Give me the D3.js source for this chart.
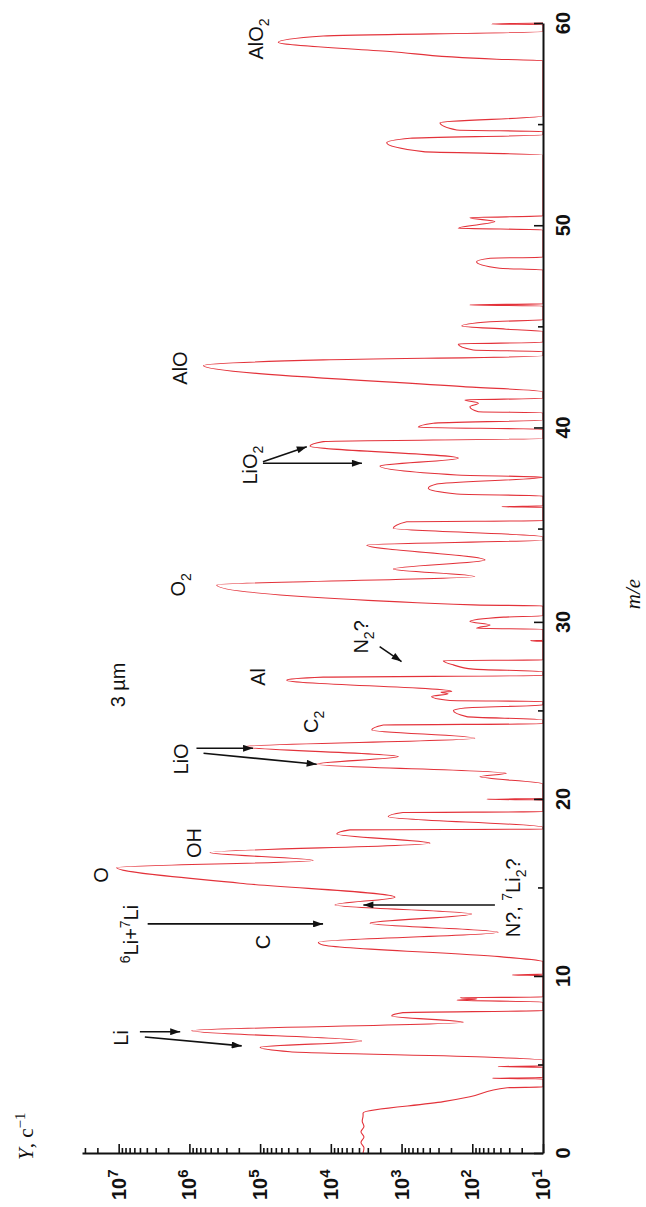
<!DOCTYPE html>
<html>
<head>
<meta charset="utf-8">
<script src="https://cdnjs.cloudflare.com/ajax/libs/d3/7.8.5/d3.min.js"></script>
<style>
body { margin: 0; background: #fff; }
svg text { font-family: "Liberation Sans", Arial, sans-serif; fill: #111; }
.axis path, .axis line { stroke: #111; }
</style>
</head>
<body>
<svg id="chart" width="646" height="1207"></svg>
<script>
// m/e of each trace vertex and the count rate Y (c^-1) read there
var mz = [
  0.00, 0.30, 0.60, 0.90, 1.20, 1.50, 1.80, 2.10, 2.26, 2.90, 3.18, 3.69, 3.73,
  4.18, 4.22, 4.26, 4.84, 4.88, 4.92, 5.25, 5.41, 5.72, 5.97, 6.33, 6.91, 7.38,
  7.74, 7.93, 8.04, 8.53, 8.63, 8.70, 8.77, 8.81, 10.02, 10.06, 10.10, 10.81,
  11.09, 11.75, 11.91, 12.47, 12.98, 13.50, 14.01, 14.45, 15.24, 16.12, 16.52,
  16.97, 17.50, 18.02, 18.25, 18.29, 18.40, 19.00, 19.23, 19.28, 19.94, 19.98,
  20.02, 20.85, 21.26, 21.45, 21.96, 22.39, 22.95, 23.43, 23.90, 24.18, 24.24,
  24.46, 24.65, 24.99, 25.14, 25.31, 25.50, 25.56, 25.79, 25.94, 26.03, 26.07,
  26.71, 26.88, 26.97, 27.19, 27.33, 27.57, 27.81, 27.85, 28.90, 28.93, 28.96,
  29.59, 29.64, 29.83, 30.02, 30.27, 30.34, 30.90, 30.96, 32.09, 32.56, 32.99,
  33.45, 34.19, 34.44, 34.60, 35.01, 35.34, 35.39, 36.05, 36.08, 36.12, 36.61,
  36.71, 36.99, 37.20, 37.54, 37.65, 38.09, 38.48, 39.08, 39.30, 39.46, 39.91,
  40.01, 40.21, 40.37, 40.73, 40.78, 41.03, 41.20, 41.36, 41.44, 41.77, 42.02,
  43.06, 43.34, 43.54, 43.75, 43.83, 44.13, 44.21, 44.74, 44.86, 45.02, 45.23,
  45.32, 46.01, 46.06, 46.11, 47.79, 47.87, 48.20, 48.37, 48.42, 49.77, 49.85,
  50.18, 50.37, 50.46, 53.48, 53.64, 54.08, 54.30, 54.47, 54.63, 54.71, 55.07,
  55.40, 58.14, 58.21, 58.59, 59.05, 59.36, 59.58, 59.92, 59.95, 60.00
];
var counts = [
  3500, 3400, 3750, 3400, 3750, 3400, 3600, 3500, 3500, 257, 108, 32, 10,
  10, 52, 10, 10, 43, 10, 10, 56, 37800, 100000, 3660, 927000, 134,
  1380, 955, 10, 10, 164, 86, 148, 10, 10, 27, 10, 10,
  41, 12900, 15000, 43, 2790, 102, 8730, 1240, 192000, 10700000, 17700,
  512000, 396, 8260, 5360, 10, 10, 1540, 955, 10, 10, 62,
  10, 10, 78, 33, 15850, 1110, 173000, 92, 2640, 1810, 10,
  10, 120, 185, 127, 10, 10, 207, 375, 220, 277, 195,
  42000, 12800, 10, 10, 97, 185, 257, 10, 10, 15, 10,
  10, 87, 56, 108, 36, 10, 10, 97, 411000, 92, 1310,
  66, 3110, 10, 10, 1310, 845, 10, 10, 38, 10, 10,
  166, 419, 318, 10, 166, 2020, 158, 19700, 12800, 10, 10,
  580, 356, 10, 10, 82, 108, 82, 127, 10, 10, 134,
  635000, 12800, 10, 10, 97, 158, 10, 10, 33, 141, 56,
  10, 10, 108, 10, 10, 41, 87, 56, 10, 10, 158,
  48, 108, 10, 10, 493, 1620, 760, 10, 10, 166, 286,
  10, 10, 45, 1460, 55300, 12800, 10, 10, 53, 10
];

// axis ticks
var decades = [1, 2, 3, 4, 5, 6, 7];
var massLabels = [0, 10, 20, 30, 40, 50, 60];
var massTicks = [0, 5, 10, 15, 20, 25, 30, 35, 40, 45, 50, 55, 60];

// peak labels: text pieces, m/e, log10(Y) of the label
var labelText = [
  [["AlO", ""], ["2", "sub"]],
  [["AlO", ""]],
  [["LiO", ""], ["2", "sub"]],
  [["O", ""], ["2", "sub"]],
  [["3 \u00b5m", ""]],
  [["Al", ""]],
  [["N", ""], ["2", "sub"], ["?", ""]],
  [["C", ""], ["2", "sub"]],
  [["LiO", ""]],
  [["OH", ""]],
  [["O", ""]],
  [["6", "sup"], ["Li+", ""], ["7", "sup"], ["Li", ""]],
  [["C", ""]],
  [["N?, ", ""], ["7", "sup"], ["Li", ""], ["2", "sub"], ["?", ""]],
  [["Li", ""]]
];
var labelMz = [59.21, 42.94, 38.14, 32.09, 26.44, 26.89, 29.15, 24.35, 22.26, 17.51, 15.71, 12.37, 11.92, 14.41, 6.50];
var labelLog = [4.96, 6.03, 5.04, 6.06, 6.91, 4.93, 3.48, 4.18, 6.02, 5.84, 7.15, 6.73, 4.86, 1.33, 6.87];

// arrows: [m/e from, log10 Y from, m/e to, log10 Y to]
var arrows = [
  [38.31, 4.96, 39.05, 4.34],
  [38.23, 4.96, 38.23, 3.56],
  [28.60, 3.31, 27.76, 3.00],
  [22.86, 5.90, 22.86, 5.10],
  [22.58, 5.80, 21.96, 4.20],
  [12.94, 6.59, 12.94, 4.11],
  [14.01, 1.68, 14.01, 3.54],
  [6.85, 6.70, 6.85, 6.13],
  [6.55, 6.63, 6.05, 5.26]
];

var svg = d3.select("#chart");

// the figure is turned on its side: Y runs right-to-left, m/e bottom-to-top
var xScale = d3.scaleLog().domain([10, 3.3e7]).range([543, 82]);
var yScale = d3.scaleLinear().domain([0, 33.1, 60]).range([1153, 567, 23]);

var data = mz.map(function (m, i) { return { m: m, y: counts[i] }; });

var line = d3.line()
  .curve(d3.curveMonotoneY)
  .x(function (d) { return xScale(d.y); })
  .y(function (d) { return yScale(d.m); });

svg.append("path")
  .datum(data)
  .attr("d", line)
  .attr("fill", "none")
  .attr("stroke", "#e3323a")
  .attr("stroke-width", 1.1)
  .attr("stroke-linejoin", "round");

// Y axis (log), along the bottom
var logTicks = xScale.ticks();
var yAxis = svg.append("g")
  .attr("class", "axis")
  .attr("transform", "translate(0,1153)")
  .call(d3.axisBottom(xScale).tickValues(logTicks).tickSize(-5).tickSizeOuter(0).tickFormat(""));
yAxis.select(".domain").attr("stroke-width", 2);
yAxis.selectAll(".tick line")
  .attr("stroke-width", 1.6)
  .attr("y2", function (d) { return Math.abs(Math.log10(d) % 1) < 1e-9 ? -9 : -5; });

decades.forEach(function (e) {
  var t = svg.append("text")
    .attr("transform", "translate(" + (xScale(Math.pow(10, e)) + 7) + ",1200) rotate(-90)")
    .attr("text-anchor", "start")
    .style("font-size", "20px")
    .style("font-weight", "bold");
  t.append("tspan").text("10");
  t.append("tspan").attr("dy", -8).style("font-size", "15px").text(e);
});

// m/e axis, along the right
var mAxis = svg.append("g")
  .attr("class", "axis")
  .attr("transform", "translate(543,0)")
  .call(d3.axisRight(yScale).tickValues(massTicks).tickSize(-5).tickSizeOuter(0).tickFormat(""));
mAxis.select(".domain").attr("stroke-width", 2);
mAxis.selectAll(".tick line")
  .attr("stroke-width", 1.6)
  .attr("x2", function (d) { return d % 10 == 0 ? -9 : -5; });

massLabels.forEach(function (v) {
  svg.append("text")
    .attr("transform", "translate(570," + yScale(v) + ") rotate(-90)")
    .attr("text-anchor", "middle")
    .style("font-size", "20px")
    .style("font-weight", "bold")
    .text(v);
});

// axis titles
var yt = svg.append("text")
  .attr("transform", "translate(33,1160) rotate(-90)")
  .attr("text-anchor", "start")
  .style("font-size", "21px");
yt.append("tspan").style("font-style", "italic").style("font-family", "'Liberation Serif', serif").text("Y");
yt.append("tspan").style("font-family", "'Liberation Serif', serif").text(", c");
yt.append("tspan").attr("dy", -8).style("font-size", "15px").style("font-family", "'Liberation Serif', serif").text("\u22121");

svg.append("text")
  .attr("transform", "translate(640,594) rotate(-90)")
  .attr("text-anchor", "middle")
  .style("font-family", "'Liberation Serif', serif")
  .style("font-style", "italic")
  .style("font-size", "21px")
  .text("m/e");

// peak labels
labelText.forEach(function (parts, i) {
  var t = svg.append("text")
    .attr("transform", "translate(" + xScale(Math.pow(10, labelLog[i])) + "," + yScale(labelMz[i]) + ") rotate(-90)")
    .attr("text-anchor", "middle")
    .style("font-size", "20px");
  var shift = 0;
  parts.forEach(function (p) {
    var target = p[1] == "sup" ? -8 : (p[1] == "sub" ? 6 : 0);
    var s = t.append("tspan").attr("dy", target - shift).text(p[0]);
    if (p[1]) s.style("font-size", "14px");
    shift = target;
  });
});

// arrows
svg.append("defs").append("marker")
  .attr("id", "head")
  .attr("viewBox", "0 0 10 7")
  .attr("refX", 10).attr("refY", 3.5)
  .attr("markerWidth", 11).attr("markerHeight", 7)
  .attr("markerUnits", "userSpaceOnUse")
  .attr("orient", "auto")
  .append("path").attr("d", "M0,0 L10,3.5 L0,7 Z").attr("fill", "#111");

svg.selectAll(".arrow")
  .data(arrows)
  .enter().append("line")
  .attr("class", "arrow")
  .attr("x1", function (d) { return xScale(Math.pow(10, d[1])); })
  .attr("y1", function (d) { return yScale(d[0]); })
  .attr("x2", function (d) { return xScale(Math.pow(10, d[3])); })
  .attr("y2", function (d) { return yScale(d[2]); })
  .attr("stroke", "#111")
  .attr("stroke-width", 1.6)
  .attr("marker-end", "url(#head)");
</script>
</body>
</html>
